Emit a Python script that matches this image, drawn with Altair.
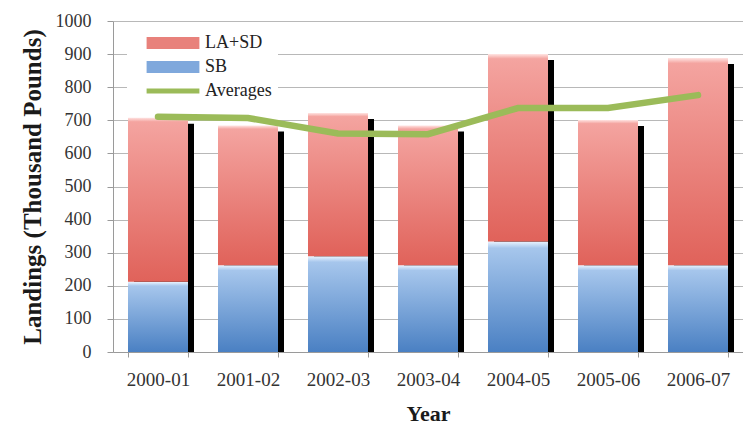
import altair as alt
import pandas as pd

# Landings by season: SB and LA+SD stacked, plus the running average line
years = ["2000-01", "2001-02", "2002-03", "2003-04", "2004-05", "2005-06", "2006-07"]
sb = [212, 262, 289, 262, 334, 262, 262]
la_sd = [496, 422, 433, 422, 566, 439, 626]
averages = [711, 707, 660, 658, 737, 737, 776]

series = ["LA+SD", "SB", "Averages"]
series_colors = ["#E8817B", "#7FA8DC", "#9BBB59"]
# legend swatches: wide bars for the stacked series, a flat stroke for the line
series_shapes = [
    "M-4.4,-1H4.4V1H-4.4Z",
    "M-4.4,-1H4.4V1H-4.4Z",
    "M-4.4,-0.42H4.4V0.42H-4.4Z",
]

df = pd.DataFrame({"year": years, "sb": sb, "la_sd": la_sd, "avg": averages})
df["total"] = df["sb"] + df["la_sd"]
df["zero"] = 0
legend_df = pd.DataFrame({"series": series})

SERIF = "Liberation Serif"

red_fill = alt.Gradient(
    gradient="linear",
    stops=[
        alt.GradientStop(color="#FFE4E2", offset=0),
        alt.GradientStop(color="#F4A4A0", offset=0.025),
        alt.GradientStop(color="#E0625A", offset=1),
    ],
    x1=0, x2=0, y1=0, y2=1,
)
blue_fill = alt.Gradient(
    gradient="linear",
    stops=[
        alt.GradientStop(color="#EAF4FF", offset=0),
        alt.GradientStop(color="#A6C6EC", offset=0.06),
        alt.GradientStop(color="#4A80C3", offset=1),
    ],
    x1=0, x2=0, y1=0, y2=1,
)

x_enc = alt.X(
    "year:N",
    sort=years,
    scale=alt.Scale(paddingInner=1 / 3, paddingOuter=1 / 6),
    axis=alt.Axis(
        title="Year",
        labelAngle=0,
        tickBand="extent",
        grid=False,
        labelFont=SERIF,
        labelFontSize=19,
        labelColor="#333333",
        titleFont=SERIF,
        titleFontSize=22,
        titleFontWeight="bold",
        titleColor="#1A1A1A",
        tickSize=5,
        labelPadding=13,
        titlePadding=14,
    ),
)
y_scale = alt.Scale(domain=[0, 1000], nice=False)
y_axis = alt.Axis(
    title="Landings (Thousand Pounds)",
    values=list(range(0, 1001, 100)),
    format="d",
    grid=True,
    labelFont=SERIF,
    labelFontSize=18,
    labelColor="#333333",
    titleFont=SERIF,
    titleFontSize=25,
    titleFontWeight="bold",
    titleColor="#1A1A1A",
    tickSize=6,
    labelPadding=16,
    titlePadding=10,
)

base = alt.Chart(df)

shadow = base.mark_bar(color="#000000", xOffset=6, yOffset=6, y2Offset=0).encode(
    x=x_enc,
    y=alt.Y("total:Q", scale=y_scale, axis=y_axis),
    y2="zero:Q",
)

sb_bars = base.mark_bar(color=blue_fill).encode(
    x=x_enc,
    y=alt.Y("sb:Q", scale=y_scale, axis=y_axis),
)

la_bars = base.mark_bar(color=red_fill).encode(
    x=x_enc,
    y=alt.Y("sb:Q", scale=y_scale, axis=y_axis),
    y2="total:Q",
)

avg_line = base.mark_line(color="#9BBB59", strokeWidth=6.5, strokeCap="round").encode(
    x=x_enc,
    y=alt.Y("avg:Q", scale=y_scale, axis=y_axis),
)

legend_layer = alt.Chart(legend_df).mark_point(filled=True, opacity=0).encode(
    color=alt.Color(
        "series:N",
        sort=series,
        scale=alt.Scale(domain=series, range=series_colors),
        legend=alt.Legend(
            title=None,
            orient="none",
            legendX=14,
            legendY=7,
            fillColor="#FFFFFF",
            padding=6,
            symbolSize=144,
            symbolOffset=31,
            labelOffset=23,
            symbolOpacity=1,
            symbolStrokeWidth=0,
            rowPadding=6,
            labelFont=SERIF,
            labelFontSize=18,
            labelColor="#222222",
        ),
    ),
    shape=alt.Shape(
        "series:N",
        sort=series,
        scale=alt.Scale(domain=series, range=series_shapes),
        legend=None,
    ),
)

chart = (
    alt.layer(shadow, sb_bars, la_bars, avg_line, legend_layer)
    .properties(
        width=630,
        height=331,
        autosize=alt.AutoSizeParams(type="none"),
        padding={"left": 113, "top": 21, "right": 0, "bottom": 73},
        background="#FFFFFF",
    )
    .configure_view(fill="#F1F0EB", stroke=None)
    .configure_axis(
        domainColor="#9A9A9A",
        tickColor="#9A9A9A",
        gridColor="#B8B8B8",
        gridWidth=1,
    )
)

chart.save("out.html", embed_options={"renderer": "svg", "actions": False})
